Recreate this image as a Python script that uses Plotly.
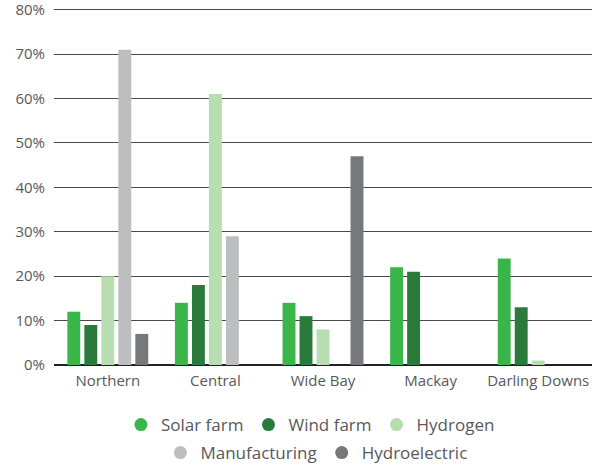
import plotly.graph_objects as go

regions = ["Northern", "Central", "Wide Bay", "Mackay", "Darling Downs"]
series_names = ["Solar farm", "Wind farm", "Hydrogen", "Manufacturing", "Hydroelectric"]
solar = [12, 14, 14, 22, 24]
wind = [9, 18, 11, 21, 13]
hydrogen = [20, 61, 8, 0, 1]
manufacturing = [71, 29, 0, 0, 0]
hydroelectric = [7, 0, 47, 0, 0]
colors = ["#3ab54a", "#2a7a3c", "#b7ddb0", "#bcbec0", "#77787b"]
y_ticks = [0, 10, 20, 30, 40, 50, 60, 70, 80]
y_tick_labels = [f"{v}%" for v in y_ticks]

values = [solar, wind, hydrogen, manufacturing, hydroelectric]

fig = go.Figure()
for name, vals, c in zip(series_names, values, colors):
    fig.add_trace(go.Bar(x=regions, y=vals, name=name, marker_color=c,
                         marker_line_width=0, showlegend=False, hoverinfo="skip"))
for i, (name, c) in enumerate(zip(series_names, colors)):
    fig.add_trace(go.Scatter(x=[None], y=[None], mode="markers", name=name,
                             legend="legend" if i < 3 else "legend2",
                             marker=dict(symbol="circle", size=13, color=c)))

W, H = 597, 466
font = "Open Sans"
leg_common = dict(orientation="h", xref="container", yref="container",
                  xanchor="center", yanchor="middle",
                  font=dict(size=17, color="#58595b"), itemwidth=30,
                  traceorder="normal", bgcolor="rgba(0,0,0,0)")
fig.update_layout(
    width=W, height=H,
    margin=dict(l=54, r=5, t=7, b=101, autoexpand=False),
    paper_bgcolor="white", plot_bgcolor="white",
    barmode="group", bargap=0.21, bargroupgap=0.24,
    font=dict(family=font, size=15, color="#58595b"),
    legend=dict(x=0.52, y=1 - 425 / H, **leg_common),
    legend2=dict(x=0.53, y=1 - 453 / H, **leg_common),
    xaxis=dict(showgrid=False, ticks="", showline=False, automargin=False,
               ticklabelstandoff=5, tickfont=dict(size=15)),
    yaxis=dict(range=[0, 80.6], tickmode="array", tickvals=y_ticks, ticktext=y_tick_labels,
               showgrid=True, gridcolor="#4a4a4a", gridwidth=1, zeroline=True,
               zerolinecolor="#222222", zerolinewidth=2, ticks="", automargin=False,
               ticklabeloverflow="allow", ticklabelstandoff=8, tickfont=dict(size=15)),
)
fig.write_html("out.html", config={"displayModeBar": False},
               post_script="document.body.style.margin='0';")
